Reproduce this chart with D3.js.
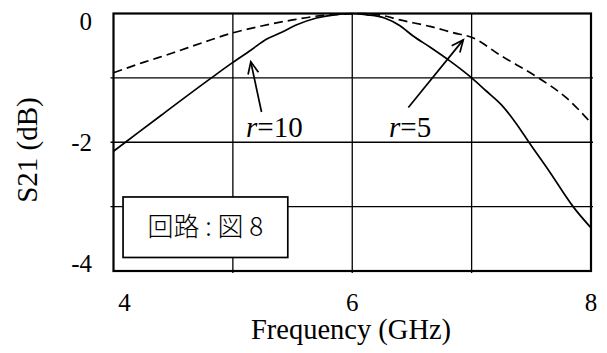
<!DOCTYPE html>
<html>
<head>
<meta charset="utf-8">
<script src="https://cdn.jsdelivr.net/npm/d3@7/dist/d3.min.js"></script>
<style>
  html, body { margin: 0; padding: 0; background: #fff; }
  svg text { fill: #000; }
</style>
</head>
<body>
<svg id="chart" width="607" height="353"></svg>
<script>
// Transmission S21 vs. frequency for two ratios r
const freqR10 = [4.0, 4.1, 4.4, 4.82, 5.0, 5.15, 5.28, 5.4, 5.53, 5.7, 5.85, 6.0, 6.12, 6.27, 6.4, 6.51, 6.65, 6.82, 7.0, 7.12, 7.25, 7.37, 7.48, 7.65, 7.85, 8.0];
const s21R10  = [-2.14, -2.0, -1.58, -1.0, -0.76, -0.57, -0.40, -0.30, -0.18, -0.07, -0.02, 0.0, -0.02, -0.07, -0.19, -0.35, -0.52, -0.74, -1.0, -1.2, -1.42, -1.7, -2.0, -2.45, -3.0, -3.33];

const freqR5 = [4.0, 4.25, 4.5, 4.75, 5.0, 5.25, 5.5, 5.75, 6.0, 6.1, 6.25, 6.4, 6.65, 6.85, 7.0, 7.25, 7.56, 7.8, 8.0];
const s21R5  = [-0.92, -0.76, -0.61, -0.45, -0.30, -0.19, -0.10, -0.03, -0.005, 0.0, -0.03, -0.10, -0.20, -0.30, -0.37, -0.66, -1.0, -1.32, -1.70];

const xTicks = [4, 6, 8];
const xGrid = [5, 6, 7];
const yTicks = [0, -2, -4];
const yGrid = [-1, -2, -3];

const xTitle = "Frequency (GHz)";
const yTitle = "S21 (dB)";
const boxText = "回路 : 図 8";

// Annotation arrows: [tipFreq, tipS21, tailFreq, tailS21]
const arrowR10 = [5.15, -0.75, 5.24, -1.53];
const arrowR5  = [6.93, -0.41, 6.47, -1.46];

const svg = d3.select("#chart");
const serif = "'Liberation Serif', serif";

const x = d3.scaleLinear().domain([4, 8]).range([113.5, 591]);
const y = d3.scaleLinear().domain([-4, 0]).range([271, 13.5]);
// baseline positions for the y tick labels, packed a little tighter than the grid
const yLabel = d3.scaleLinear().domain([-4, 0]).range([272, 30]);

// grid
const grid = svg.append("g").attr("stroke", "#000").attr("stroke-width", 1.3);
grid.selectAll("line.vx").data(xGrid).join("line")
  .attr("x1", d => x(d)).attr("x2", d => x(d))
  .attr("y1", y(0)).attr("y2", y(-4) + 2);
grid.selectAll("line.hy").data(yGrid).join("line")
  .attr("x1", x(4) - 3).attr("x2", x(8) + 2)
  .attr("y1", d => y(d)).attr("y2", d => y(d));

// frame
svg.append("rect")
  .attr("x", x(4)).attr("y", y(0))
  .attr("width", x(8) - x(4)).attr("height", y(-4) - y(0))
  .attr("fill", "none").attr("stroke", "#000").attr("stroke-width", 2.2);

// curves
const line = d3.line().x(d => x(d[0])).y(d => y(d[1])).curve(d3.curveMonotoneX);
const plot = svg.append("g");
plot.append("path")
  .datum(d3.zip(freqR5, s21R5))
  .attr("d", line)
  .attr("fill", "none").attr("stroke", "#000").attr("stroke-width", 1.7)
  .attr("stroke-dasharray", "9,5");
plot.append("path")
  .datum(d3.zip(freqR10, s21R10))
  .attr("d", line)
  .attr("fill", "none").attr("stroke", "#000").attr("stroke-width", 1.7);

// tick labels
svg.append("g").selectAll("text").data(xTicks).join("text")
  .attr("x", (d, i) => x(d) + (i === 0 ? 11 : 0))
  .attr("y", 311)
  .attr("text-anchor", "middle")
  .attr("font-family", serif).attr("font-size", 25)
  .text(d => d);
svg.append("g").selectAll("text").data(yTicks).join("text")
  .attr("x", 92)
  .attr("y", d => yLabel(d))
  .attr("text-anchor", "end")
  .attr("font-family", serif).attr("font-size", 25)
  .text(d => d);

// axis titles
svg.append("text")
  .attr("x", 351).attr("y", 339)
  .attr("text-anchor", "middle")
  .attr("font-family", serif).attr("font-size", 28.5)
  .text(xTitle);
svg.append("text")
  .attr("transform", "translate(37,150) rotate(-90)")
  .attr("text-anchor", "middle")
  .attr("font-family", serif).attr("font-size", 29)
  .text(yTitle);

// arrows with open heads
function arrow(a) {
  const x1 = x(a[0]), y1 = y(a[1]), x0 = x(a[2]), y0 = y(a[3]);
  const ang = Math.atan2(y1 - y0, x1 - x0);
  const len = 13, spread = 0.42;
  const g = svg.append("g").attr("stroke", "#000").attr("stroke-width", 1.7).attr("fill", "none");
  g.append("line").attr("x1", x0).attr("y1", y0).attr("x2", x1).attr("y2", y1);
  g.append("path").attr("d", d3.line()([
    [x1 - len * Math.cos(ang - spread), y1 - len * Math.sin(ang - spread)],
    [x1, y1],
    [x1 - len * Math.cos(ang + spread), y1 - len * Math.sin(ang + spread)]
  ]));
}
arrow(arrowR10);
arrow(arrowR5);

// r labels
function rLabel(px, py, val) {
  const t = svg.append("text")
    .attr("x", px).attr("y", py)
    .attr("font-family", serif).attr("font-size", 29);
  t.append("tspan").attr("font-style", "italic").text("r");
  t.append("tspan").text("=" + val);
}
rLabel(246, 137, 10);
rLabel(389, 137, 5);

// circuit note box
const bx0 = x(4.08), bx1 = x(5.46), by0 = y(-2.85), by1 = y(-3.79);
svg.append("rect")
  .attr("x", bx0).attr("y", by0)
  .attr("width", bx1 - bx0).attr("height", by1 - by0)
  .attr("fill", "#fff").attr("stroke", "#000").attr("stroke-width", 1.7);
svg.append("text")
  .attr("x", (bx0 + bx1) / 2).attr("y", (by0 + by1) / 2 + 9)
  .attr("text-anchor", "middle")
  .attr("font-family", "'Noto Sans CJK JP', sans-serif")
  .attr("font-weight", 300)
  .attr("font-size", 26)
  .text(boxText);
</script>
</body>
</html>
